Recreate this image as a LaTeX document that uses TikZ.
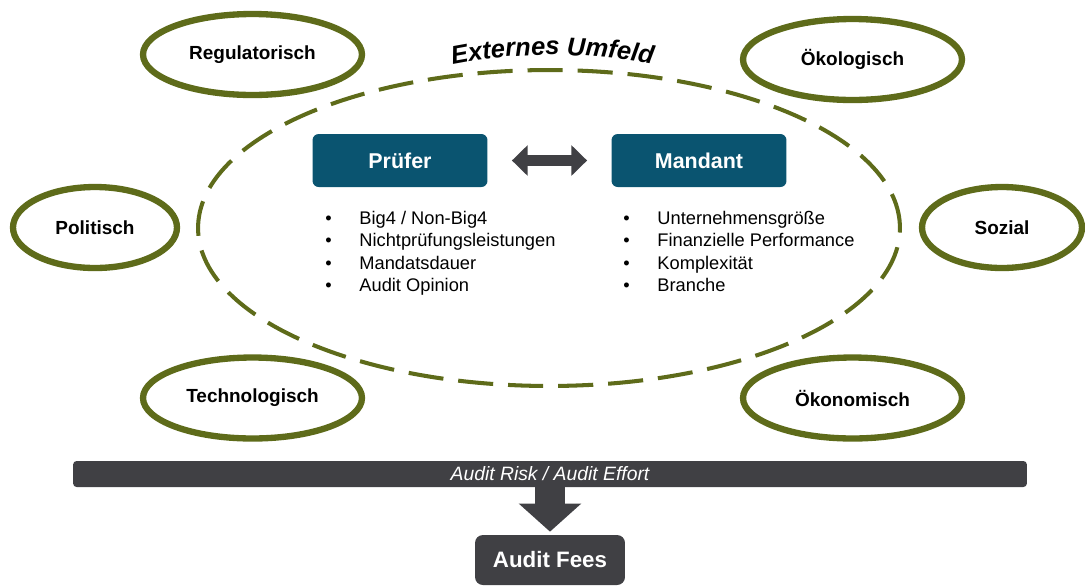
\documentclass[tikz,border=0pt]{standalone}
\usepackage{fontspec}
\setmainfont{Liberation Sans}
\usetikzlibrary{arrows.meta,shapes.geometric,decorations.text}

\begin{document}
\begin{tikzpicture}[x=0.02cm, y=-0.02cm]

\definecolor{umfeldgreen}{RGB}{94, 107, 26}
\definecolor{partyblue}{RGB}{10, 84, 112}
\definecolor{darkbar}{RGB}{64, 64, 68}

% Page frame
\useasboundingbox (0,0) rectangle (1085,586);

\tikzset{
    factor/.style={
        ellipse, draw=umfeldgreen, line width=3.6pt,
        inner sep=0pt, minimum width=4.38cm, minimum height=1.62cm,
        font=\fontsize{10.8}{12}\selectfont\bfseries
    },
    party/.style={
        rectangle, rounded corners=3.5pt, fill=partyblue, text=white,
        minimum width=3.5cm, minimum height=1.06cm,
        font=\fontsize{12.2}{14}\selectfont\bfseries
    },
    bullets/.style={
        anchor=north west, inner sep=0pt, align=left,
        font=\fontsize{10.4}{12.7}\selectfont
    },
    graybox/.style={
        rectangle, fill=darkbar, text=white, inner sep=0pt
    }
}
\newcommand{\bul}{\makebox[19.4pt][l]{\textbullet}}

% --- EXTERNAL ENVIRONMENT ---
\draw[umfeldgreen, line width=2.3pt, dash pattern=on 20pt off 8.5pt]
    (549,228) ellipse [x radius=7.02cm, y radius=3.16cm];
\path[decorate, decoration={text along path, text align=center,
    text={|\fontsize{14.5}{17}\selectfont\bfseries\itshape|Externes Umfeld}}]
    (440,67) .. controls (510,51) and (590,51) .. (665,67);

% Factors round the ellipse
\node[factor] (regulatorisch) at (252.5,54.5) {Regulatorisch};
\node[factor] (oekologisch) at (852.5,59.5) {Ökologisch};
\node[factor, minimum width=3.28cm] (politisch) at (95,227.5) {Politisch};
\node[factor, minimum width=3.2cm] (sozial) at (1002,227.5) {Sozial};
\node[factor] (technologisch) at (252.5,398) {Technologisch};
\node[factor] (oekonomisch) at (852.5,398) {Ökonomisch};

% --- AUDITOR AND CLIENT ---
\node[party] (pruefer) at (400,160.5) {Prüfer};
\node[party] (mandant) at (699,160.5) {Mandant};
\draw[darkbar, line width=6.8pt,
    {Triangle[length=9pt,width=17pt]}-{Triangle[length=9pt,width=17pt]},
    shorten <=13.7pt, shorten >=13.7pt] (pruefer) -- (mandant);

\node[bullets] (pruefer list) at (325,211) {
    \bul Big4 / Non-Big4\\
    \bul Nichtprüfungsleistungen\\
    \bul Mandatsdauer\\
    \bul Audit Opinion
};
\node[bullets] (mandant list) at (623,211) {
    \bul Unternehmensgröße\\
    \bul Finanzielle Performance\\
    \bul Komplexität\\
    \bul Branche
};

% --- RISK BAR AND FEES ---
\node[graybox, rounded corners=2pt, minimum width=19.08cm, minimum height=0.52cm,
    font=\fontsize{11}{13}\selectfont\itshape] (risk) at (550,474) {Audit Risk / Audit Effort};
\node[graybox, rounded corners=4.5pt, minimum width=3cm, minimum height=1cm,
    font=\fontsize{12.7}{15}\selectfont\bfseries] (fees) at (550,560) {Audit Fees};
\draw[darkbar, line width=17.6pt, -{Triangle[length=16pt,width=34.7pt]},
    shorten >=1.7pt] (risk) -- (fees);

\end{tikzpicture}
\end{document}
